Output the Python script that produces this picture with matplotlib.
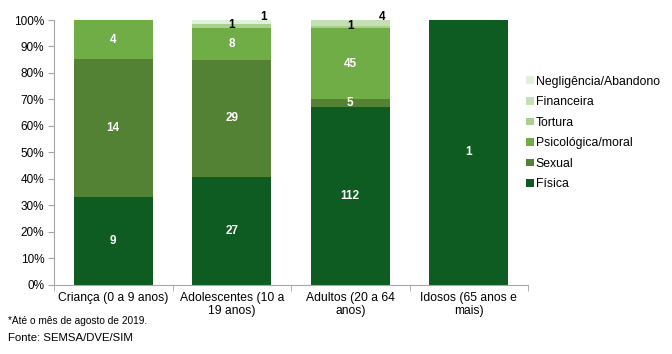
import matplotlib
matplotlib.use("Agg")
import matplotlib.pyplot as plt
import numpy as np

plt.rcParams["font.family"] = ["Liberation Sans", "DejaVu Sans"]

categories = ["Criança (0 a 9 anos)", "Adolescentes (10 a\n19 anos)",
              "Adultos (20 a 64\nanos)", "Idosos (65 anos e\nmais)"]
series = ["Física", "Sexual", "Psicológica/moral", "Tortura",
          "Financeira", "Negligência/Abandono"]
fisica = [9, 27, 112, 1]
sexual = [14, 29, 5, 0]
psicologica = [4, 8, 45, 0]
tortura = [0, 1, 1, 0]
financeira = [0, 0, 4, 0]
negligencia = [0, 1, 0, 0]
colors = ["#0e5c22", "#548235", "#70ad47", "#a9d18e", "#c5e0b4", "#e2f0d9"]

counts = np.array([fisica, sexual, psicologica, tortura, financeira, negligencia], dtype=float)
totals = counts.sum(axis=0)
shares = counts / totals * 100

fig = plt.figure(figsize=(6.72, 3.54), dpi=100)
ax = fig.add_axes([0.0804, 0.195, 0.7053, 0.7485])

x = np.arange(len(categories))
bottom = np.zeros(len(categories))
handles = []
for i, name in enumerate(series):
    bars = ax.bar(x, shares[i], 0.67, bottom=bottom, color=colors[i], label=name)
    handles.append(bars)
    for j in range(len(categories)):
        v = counts[i, j]
        if v <= 0:
            continue
        mid = bottom[j] + shares[i, j] / 2
        if i <= 2:
            ax.text(x[j], mid, f"{int(v)}", ha="center", va="center",
                    color="white", fontsize=8.5, fontweight="bold")
        elif i == 3:
            ax.text(x[j], mid + 0.3, f"{int(v)}", ha="center", va="center",
                    color="black", fontsize=8.5, fontweight="bold")
        else:
            ax.text(x[j] + 0.27, 101.2, f"{int(v)}", ha="center", va="center",
                    color="black", fontsize=8.5, fontweight="bold")
    bottom += shares[i]

ax.set_xlim(-0.5, 3.5)
ax.set_ylim(0, 100)
ax.set_yticks(np.arange(0, 101, 10))
ax.set_yticklabels([f"{v}%" for v in range(0, 101, 10)], fontsize=8.5)
ax.set_xticks(x)
ax.set_xticklabels(categories, fontsize=8.7, linespacing=1.1)
ax.tick_params(axis="x", which="major", length=0, pad=5)
ax.set_xticks(np.arange(-0.5, 3.6, 1), minor=True)
ax.tick_params(axis="x", which="minor", length=4, color="#a6a6a6", direction="out")
ax.tick_params(axis="y", length=4, color="#a6a6a6", direction="out", pad=3)
for side in ["top", "right"]:
    ax.spines[side].set_visible(False)
for side in ["left", "bottom"]:
    ax.spines[side].set_color("#a6a6a6")

leg = fig.legend(handles[::-1], series[::-1], loc="upper left",
                 bbox_to_anchor=(0.776, 0.80), frameon=False, fontsize=8.8,
                 handlelength=0.6, handleheight=0.6, handletextpad=0.15,
                 labelspacing=0.7, borderaxespad=0)

fig.text(0.012, 0.093, "*Até o mês de agosto de 2019.", fontsize=7.3, va="center")
fig.text(0.012, 0.045, "Fonte: SEMSA/DVE/SIM", fontsize=8.2, va="center")

fig.savefig("out.png", dpi=100)
